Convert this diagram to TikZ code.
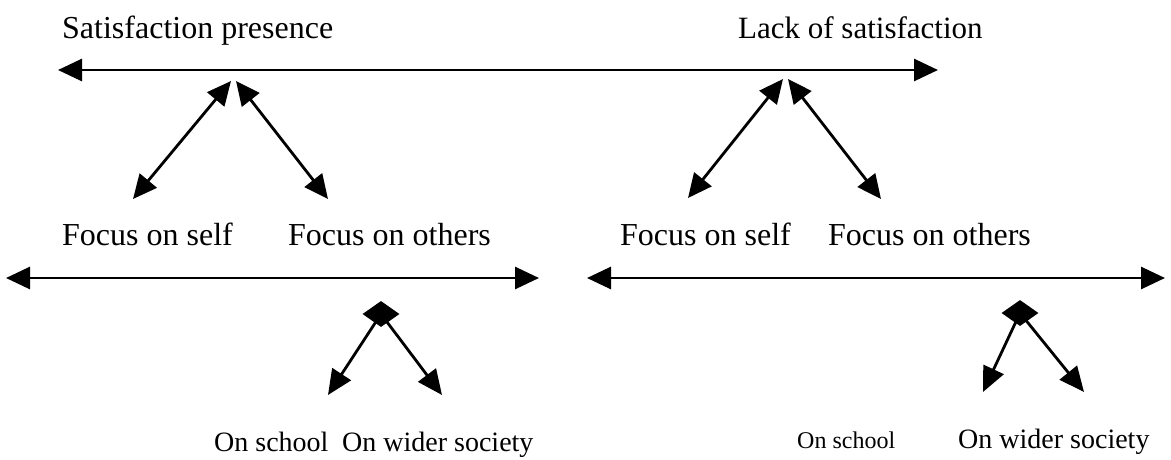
\documentclass[tikz,border=0pt]{standalone}
\usepackage{fontspec}
\setmainfont{Liberation Serif}
\usetikzlibrary{arrows.meta,shapes.geometric}
\begin{document}
\begin{tikzpicture}[x=1pt,y=-1pt,
  both/.style={line width=2.8pt,{Triangle[length=24pt,width=22pt]}-{Triangle[length=24pt,width=22pt]}},
  single/.style={line width=2.8pt,-{Triangle[length=25pt,width=22pt]}},
  label/.style={inner sep=0pt,anchor=base west},
  big/.style={label,font=\fontsize{32}{36}\selectfont},
  hub/.style={diamond,fill=black,inner sep=0pt,minimum width=37pt,minimum height=26pt}]
\useasboundingbox (0,0) rectangle (1171,459);

% top scale
\node[big] (satp) at (62,38) {Satisfaction presence};
\node[label,font=\fontsize{31}{35}\selectfont] (lack) at (738,38) {Lack of satisfaction};
\coordinate (topL) at (58,70);
\coordinate (topR) at (938,70);
\draw[both] (topL) -- (topR);

% left fork
\coordinate (jA1) at (231,81);
\coordinate (jA2) at (236,81);
\coordinate (fA1) at (133,199);
\coordinate (fA2) at (328,199);
\draw[both] (jA1) -- (fA1);
\draw[both] (jA2) -- (fA2);

% right fork
\coordinate (jB1) at (783,79);
\coordinate (jB2) at (788,79);
\coordinate (fB1) at (688,198);
\coordinate (fB2) at (881,199);
\draw[both] (jB1) -- (fB1);
\draw[both] (jB2) -- (fB2);

% focus labels
\node[big] (selfA) at (62,245) {Focus on self};
\node[big] (othA) at (288,245) {Focus on others};
\node[big] (selfB) at (620,245) {Focus on self};
\node[big] (othB) at (828,245) {Focus on others};

% second scales
\coordinate (lowAL) at (6,278);
\coordinate (lowAR) at (539,278);
\coordinate (lowBL) at (587,278);
\coordinate (lowBR) at (1165,278);
\draw[both] (lowAL) -- (lowAR);
\draw[both] (lowBL) -- (lowBR);

% lower forks
\node[hub] (hA) at (381,314) {};
\node[hub] (hB) at (1020,313) {};
\coordinate (sA1) at (328,395);
\coordinate (sA2) at (442,395);
\coordinate (sB1) at (983,392);
\coordinate (sB2) at (1084,392);
\draw[single] (hA.center) -- (sA1);
\draw[single] (hA.center) -- (sA2);
\draw[single] (hB.center) -- (sB1);
\draw[single] (hB.center) -- (sB2);

% bottom labels
\node[label,font=\fontsize{28}{32}\selectfont] (schA) at (214,451) {On school};
\node[label,font=\fontsize{28}{32}\selectfont] (socA) at (342,451) {On wider society};
\node[label,font=\fontsize{24}{28}\selectfont] (schB) at (797,448) {On school};
\node[label,font=\fontsize{28}{32}\selectfont] (socB) at (958,448) {On wider society};
\end{tikzpicture}
\end{document}
